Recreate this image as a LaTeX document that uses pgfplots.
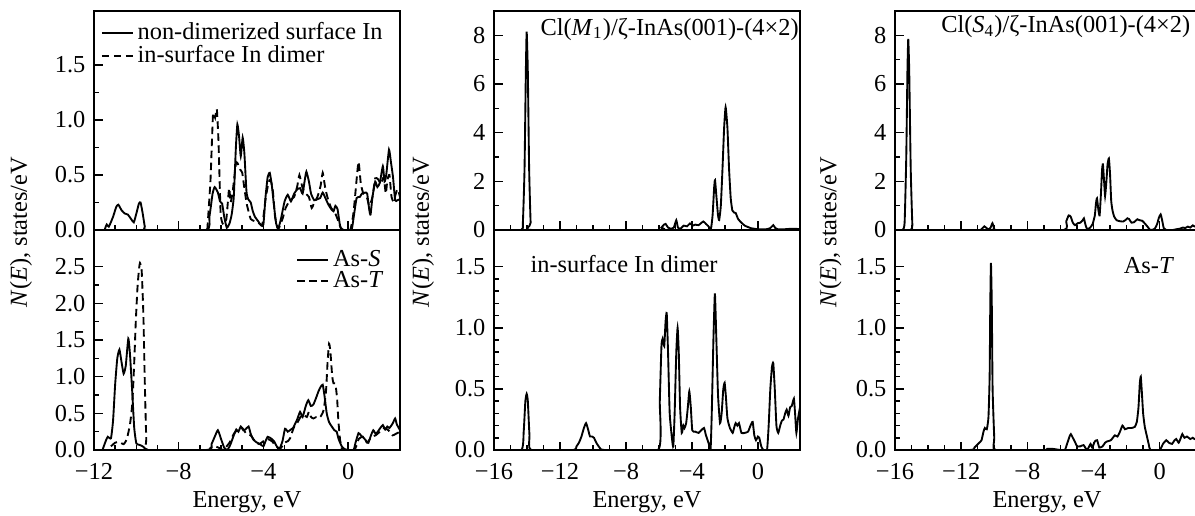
\documentclass[border=0pt]{standalone}
\usepackage{fontspec}
\setmainfont{Liberation Serif}
\usepackage{pgfplots}
\pgfplotsset{compat=1.18}
\usepackage{pgfplotstable}

% Panel 1 upper, solid: non-dimerized surface In
\pgfplotstableread{
E N
-11.5 0
-11.4 0.05
-11.3 0.03
-11.1 0.12
-10.95 0.21
-10.85 0.23
-10.7 0.18
-10.55 0.15
-10.4 0.14
-10.25 0.1
-10.12 0.07
-10.0 0.15
-9.88 0.24
-9.8 0.25
-9.7 0.15
-9.6 0.03
-9.5 0
-6.7 0
-6.55 0.12
-6.4 0.33
-6.3 0.39
-6.15 0.34
-6.05 0.26
-5.95 0.24
-5.85 0.12
-5.73 0.02
-5.6 0.06
-5.5 0.14
-5.4 0.3
-5.3 0.75
-5.23 0.96
-5.15 0.85
-5.07 0.67
-4.98 0.84
-4.9 0.7
-4.8 0.35
-4.72 0.28
-4.6 0.25
-4.5 0.17
-4.4 0.12
-4.25 0.08
-4.1 0.04
-4.0 0.05
-3.9 0.3
-3.8 0.48
-3.7 0.52
-3.6 0.4
-3.5 0.22
-3.4 0.06
-3.3 0.01
-3.15 0.12
-3.0 0.26
-2.85 0.32
-2.7 0.26
-2.55 0.33
-2.4 0.37
-2.27 0.38
-2.15 0.33
-2.05 0.45
-1.97 0.53
-1.85 0.44
-1.75 0.33
-1.6 0.27
-1.45 0.28
-1.32 0.29
-1.2 0.34
-1.05 0.28
-0.93 0.23
-0.8 0.19
-0.69 0.17
-0.6 0.22
-0.5 0.19
-0.4 0.06
-0.3 0.0
0.15 0.0
0.25 0.1
0.4 0.29
0.55 0.3
0.65 0.33
0.8 0.34
0.9 0.33
1.0 0.18
1.06 0.14
1.15 0.3
1.28 0.44
1.38 0.39
1.5 0.43
1.64 0.58
1.72 0.44
1.8 0.5
1.93 0.73
2.02 0.62
2.12 0.48
2.22 0.27
2.32 0.27
2.45 0.28
}\pAus

% Panel 1 upper, dashed: in-surface In dimer
\pgfplotstableread{
E N
-6.65 0
-6.5 0.45
-6.38 1.05
-6.28 1.02
-6.2 1.1
-6.12 0.8
-6.02 0.15
-5.9 0.05
-5.75 0.1
-5.62 0.38
-5.55 0.25
-5.45 0.35
-5.3 0.6
-5.23 0.61
-5.1 0.55
-5.0 0.52
-4.9 0.38
-4.78 0.23
-4.6 0.1
-4.4 0.08
-4.2 0.06
-4.05 0.05
-3.9 0.28
-3.75 0.44
-3.65 0.45
-3.55 0.35
-3.45 0.12
-3.3 0.01
-3.1 0.1
-2.95 0.2
-2.75 0.27
-2.55 0.3
-2.4 0.4
-2.3 0.5
-2.15 0.38
-2.0 0.33
-1.85 0.3
-1.72 0.2
-1.6 0.25
-1.45 0.3
-1.3 0.4
-1.2 0.52
-1.08 0.38
-0.95 0.28
-0.8 0.2
-0.65 0.17
-0.5 0.1
-0.35 0.02
-0.2 0
0.1 0
0.25 0.15
0.35 0.35
0.49 0.62
0.6 0.42
0.72 0.33
0.88 0.3
1.0 0.22
1.15 0.3
1.28 0.47
1.42 0.46
1.55 0.42
1.68 0.48
1.78 0.33
1.85 0.45
1.95 0.5
2.05 0.3
2.15 0.26
2.28 0.35
2.35 0.37
2.45 0.3
}\pAud

% Panel 1 lower, solid: As-S
\pgfplotstableread{
E N
-11.6 0
-11.45 0.12
-11.35 0.18
-11.2 0.16
-11.1 0.4
-11.0 0.9
-10.9 1.25
-10.8 1.37
-10.7 1.2
-10.6 1.04
-10.5 1.15
-10.38 1.52
-10.3 1.3
-10.2 0.82
-10.1 0.3
-10.0 0.09
-9.85 0.07
-9.7 0.05
-9.55 0.01
-9.45 0
-6.6 0
-6.45 0.08
-6.3 0.18
-6.15 0.27
-6.0 0.15
-5.85 0.03
-5.7 0.0
-5.55 0.08
-5.4 0.2
-5.28 0.28
-5.18 0.25
-5.07 0.32
-4.95 0.27
-4.85 0.28
-4.7 0.32
-4.6 0.22
-4.47 0.14
-4.3 0.1
-4.15 0.08
-4.0 0.05
-3.9 0.12
-3.8 0.18
-3.65 0.16
-3.5 0.12
-3.37 0.05
-3.25 0.01
-3.1 0.12
-2.98 0.29
-2.85 0.25
-2.7 0.28
-2.6 0.3
-2.5 0.36
-2.4 0.42
-2.27 0.52
-2.15 0.45
-2.0 0.6
-1.88 0.68
-1.76 0.6
-1.64 0.62
-1.5 0.72
-1.4 0.8
-1.3 0.86
-1.2 0.89
-1.12 0.75
-1.01 0.5
-0.9 0.38
-0.77 0.32
-0.65 0.27
-0.54 0.25
-0.45 0.15
-0.3 0.05
-0.15 0.01
0.25 0
0.35 0.1
0.49 0.23
0.6 0.2
0.75 0.16
0.9 0.11
0.96 0.1
1.08 0.2
1.19 0.27
1.3 0.22
1.4 0.25
1.52 0.3
1.64 0.34
1.75 0.28
1.85 0.32
1.95 0.3
2.1 0.36
2.22 0.43
2.3 0.35
2.45 0.27
}\pAls

% Panel 1 lower, dashed: As-T
\pgfplotstableread{
E N
-11.2 0.05
-11.0 0.1
-10.82 0.11
-10.6 0.08
-10.45 0.15
-10.3 0.35
-10.19 0.64
-10.1 1.2
-10.03 1.73
-9.95 2.2
-9.88 2.45
-9.83 2.55
-9.75 2.45
-9.67 1.86
-9.6 0.9
-9.53 0.15
-9.45 0
-6.7 0
-6.5 0.03
-6.3 0.05
-6.1 0.03
-5.9 0.0
-5.6 0.1
-5.4 0.22
-5.2 0.28
-5.0 0.3
-4.8 0.22
-4.6 0.2
-4.4 0.12
-4.2 0.08
-4.0 0.12
-3.8 0.15
-3.6 0.12
-3.4 0.05
-3.2 0.02
-3.0 0.1
-2.85 0.12
-2.74 0.16
-2.6 0.28
-2.51 0.34
-2.4 0.37
-2.25 0.45
-2.1 0.48
-1.95 0.45
-1.85 0.52
-1.75 0.45
-1.64 0.43
-1.5 0.45
-1.35 0.44
-1.25 0.48
-1.15 0.55
-1.04 0.82
-0.97 1.2
-0.9 1.45
-0.84 1.35
-0.75 1.0
-0.69 0.91
-0.6 0.9
-0.52 0.7
-0.46 0.4
-0.38 0.14
-0.3 0.02
-0.2 0
0.3 0
0.5 0.15
0.7 0.18
0.9 0.1
1.1 0.18
1.3 0.2
1.5 0.25
1.7 0.3
1.9 0.27
2.1 0.2
2.25 0.22
2.45 0.25
}\pAld

% Panel 2 upper
\pgfplotstableread{
E N
-16 0
-14.35 0
-14.25 0.3
-14.15 2.5
-14.07 6.5
-14.02 8.15
-13.95 6.5
-13.87 2.5
-13.78 0.3
-13.7 0
-6.0 0
-5.85 0.1
-5.7 0.22
-5.6 0.25
-5.45 0.1
-5.3 0.05
-5.1 0.1
-4.95 0.4
-4.85 0.1
-4.7 0.05
-4.5 0.18
-4.3 0.15
-4.12 0.27
-3.95 0.18
-3.8 0.22
-3.6 0.2
-3.45 0.28
-3.31 0.35
-3.15 0.25
-3.0 0.15
-2.85 0.05
-2.75 0.6
-2.65 1.8
-2.6 2.05
-2.52 1.4
-2.42 0.6
-2.35 0.41
-2.25 1.0
-2.15 2.5
-2.05 4.2
-1.96 5.05
-1.85 4.2
-1.75 2.5
-1.65 1.3
-1.55 0.8
-1.45 0.72
-1.35 0.7
-1.2 0.45
-1.0 0.3
-0.8 0.18
-0.6 0.12
-0.4 0.07
-0.2 0.05
0.0 0.03
0.5 0.03
0.75 0.08
0.93 0.2
1.05 0.08
1.2 0.03
1.6 0.03
2.0 0.05
2.55 0.04
}\pBu

% Panel 2 lower
\pgfplotstableread{
E N
-16 0
-14.35 0
-14.2 0.15
-14.1 0.4
-14.02 0.46
-13.95 0.4
-13.85 0.12
-13.75 0
-11.2 0
-11.0 0.03
-10.85 0.06
-10.7 0.11
-10.55 0.18
-10.42 0.22
-10.3 0.17
-10.18 0.11
-10.05 0.11
-9.94 0.1
-9.8 0.06
-9.6 0.02
-9.3 0
-6.05 0
-5.95 0.4
-5.85 0.85
-5.78 0.91
-5.68 0.85
-5.6 1.05
-5.53 1.12
-5.45 0.8
-5.35 0.3
-5.2 0.08
-5.13 0.03
-5.05 0.3
-4.95 0.8
-4.87 1.0
-4.8 0.8
-4.72 0.35
-4.62 0.14
-4.52 0.2
-4.45 0.18
-4.35 0.22
-4.25 0.35
-4.16 0.48
-4.07 0.35
-3.98 0.16
-3.8 0.15
-3.6 0.14
-3.45 0.16
-3.27 0.18
-3.15 0.12
-3.0 0.06
-2.87 0.01
-2.8 0.3
-2.7 0.9
-2.61 1.28
-2.52 0.9
-2.42 0.45
-2.3 0.22
-2.2 0.3
-2.1 0.5
-2.02 0.55
-1.95 0.45
-1.85 0.26
-1.7 0.18
-1.53 0.14
-1.45 0.18
-1.35 0.22
-1.25 0.2
-1.15 0.22
-1.0 0.14
-0.8 0.14
-0.6 0.15
-0.45 0.2
-0.32 0.23
-0.22 0.12
-0.12 0.08
0.0 0.11
0.08 0.1
0.2 0.03
0.33 0
0.55 0
0.65 0.2
0.75 0.5
0.85 0.68
0.93 0.71
1.02 0.5
1.12 0.2
1.23 0.14
1.35 0.2
1.45 0.24
1.55 0.25
1.65 0.3
1.74 0.33
1.85 0.28
1.95 0.35
2.05 0.36
2.18 0.42
2.25 0.3
2.33 0.14
2.42 0.25
2.55 0.35
}\pBl

% Panel 3 upper
\pgfplotstableread{
E N
-16 0
-15.55 0
-15.42 0.3
-15.32 3.0
-15.25 6.5
-15.2 7.85
-15.14 6.5
-15.05 2.5
-14.95 0.2
-14.85 0
-10.9 0
-10.75 0.05
-10.6 0.15
-10.5 0.1
-10.35 0.02
-10.22 0.1
-10.11 0.28
-10.0 0.05
-9.9 0
-5.8 0
-5.65 0.35
-5.5 0.6
-5.38 0.55
-5.25 0.3
-5.12 0.2
-4.95 0.28
-4.8 0.3
-4.65 0.4
-4.58 0.48
-4.48 0.2
-4.38 0.03
-4.2 0.1
-4.05 0.25
-3.92 0.6
-3.85 1.1
-3.79 1.3
-3.7 0.8
-3.63 0.6
-3.55 1.5
-3.48 2.5
-3.43 2.7
-3.36 2.0
-3.3 1.4
-3.22 2.0
-3.15 2.7
-3.07 2.94
-3.0 2.3
-2.93 1.2
-2.85 0.8
-2.75 0.55
-2.6 0.4
-2.4 0.36
-2.2 0.35
-2.05 0.42
-1.95 0.48
-1.85 0.45
-1.7 0.3
-1.55 0.32
-1.35 0.44
-1.2 0.4
-1.05 0.38
-0.9 0.27
-0.75 0.15
-0.6 0.02
-0.5 0
-0.3 0.05
-0.15 0.25
-0.05 0.5
0.06 0.64
0.15 0.4
0.25 0.07
0.4 0
0.8 0.0
1.0 0.03
1.2 0.05
1.4 0.1
1.55 0.08
1.7 0.14
1.85 0.1
2.0 0.19
2.1 0.15
2.3 0.12
2.5 0.1
}\pCu

% Panel 3 lower
\pgfplotstableread{
E N
-16 0
-11.5 0
-11.2 0.02
-11.05 0.04
-10.9 0.06
-10.77 0.08
-10.65 0.15
-10.57 0.18
-10.45 0.17
-10.35 0.27
-10.28 0.6
-10.24 1.2
-10.2 1.53
-10.15 1.2
-10.1 0.5
-10.0 0.1
-9.92 0
-7.0 0
-6.8 0.01
-6.5 0.01
-6.0 0
-5.73 0
-5.6 0.05
-5.45 0.11
-5.37 0.13
-5.25 0.1
-5.1 0.06
-4.99 0.03
-4.8 0.03
-4.6 0.04
-4.39 0
-4.18 0.05
-4.08 0.02
-3.92 0.07
-3.78 0.08
-3.65 0.02
-3.45 0.03
-3.3 0.06
-3.18 0.07
-2.95 0.08
-2.71 0.12
-2.55 0.11
-2.4 0.15
-2.25 0.2
-2.1 0.17
-1.9 0.18
-1.7 0.18
-1.5 0.19
-1.38 0.23
-1.28 0.35
-1.2 0.55
-1.14 0.6
-1.08 0.48
-1.0 0.3
-0.9 0.19
-0.75 0.1
-0.65 0.04
-0.56 0
0.0 0
0.2 0.05
0.4 0.08
0.55 0.06
0.75 0.05
0.9 0.08
1.0 0.09
1.15 0.06
1.28 0.1
1.37 0.13
1.5 0.1
1.65 0.11
1.85 0.09
2.0 0.1
2.1 0.09
2.3 0.1
2.5 0.1
}\pCl

\pgfplotsset{
  dosaxis/.style={
    scale only axis,
    anchor=south west,
    width=122.4pt,
    axis line style={-, line width=0.9pt},
    tick style={black, line width=0.6pt},
    major tick length=3.4pt,
    minor tick length=2.1pt,
    xtick pos=bottom, ytick pos=left,
    tick align=inside,
    ymin=0,
    xticklabel shift=1.8pt,
  },
  curve/.style={black, line width=0.75pt, smooth, tension=0.3},
  dcurve/.style={black, line width=0.75pt, smooth, tension=0.3, dash pattern=on 3pt off 1.8pt},
}

\begin{document}
\fontsize{9.75pt}{11.7pt}\selectfont
\begin{tikzpicture}
\useasboundingbox (0pt,0pt) rectangle (478pt,206pt);

% ---------- Column 1 ----------
\begin{axis}[dosaxis, at={(37.6pt,114pt)}, height=87.6pt,
  xmin=-12, xmax=2.45, ymax=1.99,
  xtick={-12,-8,-4,0}, xticklabels={}, minor x tick num=3,
  ytick={0,0.5,1,1.5}, yticklabels={0.0,0.5,1.0,1.5}, minor y tick num=1,
  legend style={at={(0,1)}, anchor=north west, xshift=2.6pt, yshift=-3pt,
    draw=none, fill=none, inner sep=0pt, row sep=-2.3pt, nodes={inner sep=1.5pt}},
  legend cell align=left,
  legend image code/.code={\draw[#1] (0pt,0pt) -- (12.4pt,0pt);},
]
\addplot[curve] table {\pAus};
\addlegendentry{non-dimerized surface In}
\addplot[dcurve] table {\pAud};
\addlegendentry{in-surface In dimer}
\end{axis}

\begin{axis}[dosaxis, at={(37.6pt,26pt)}, height=88pt,
  xmin=-12, xmax=2.45, ymax=3.0,
  xtick={-12,-8,-4,0}, xticklabels={−12,−8,−4,0}, minor x tick num=3,
  ytick={0,0.5,1,1.5,2,2.5}, yticklabels={0.0,0.5,1.0,1.5,2.0,2.5}, minor y tick num=1,
  legend style={at={(1,1)}, anchor=north east, xshift=-5pt, yshift=-6.5pt,
    draw=none, fill=none, inner sep=0pt, row sep=-2.6pt, nodes={inner sep=1.5pt}},
  legend cell align=left,
  legend image code/.code={\draw[#1] (0pt,0pt) -- (12.4pt,0pt);},
]
\addplot[curve] table {\pAls};
\addlegendentry{As-\textit{S}}
\addplot[dcurve] table {\pAld};
\addlegendentry{As-\textit{T}}
\end{axis}

% ---------- Column 2 ----------
\begin{axis}[dosaxis, at={(197.6pt,114pt)}, height=87.6pt,
  xmin=-16, xmax=2.55, ymax=9,
  xtick={-16,-12,-8,-4,0}, xticklabels={}, minor x tick num=3,
  ytick={0,2,4,6,8}, yticklabels={0,2,4,6,8}, minor y tick num=1,
]
\addplot[curve] table {\pBu};
\node[anchor=base west] at (rel axis cs:0.124,0.89) {Cl(\textit{M}\textsubscript{1})/ζ-InAs(001)-(4×2)};
\end{axis}

\begin{axis}[dosaxis, at={(197.6pt,26pt)}, height=88pt,
  xmin=-16, xmax=2.55, ymax=1.8,
  xtick={-16,-12,-8,-4,0}, xticklabels={−16,−12,−8,−4,0}, minor x tick num=3,
  ytick={0,0.5,1,1.5}, yticklabels={0.0,0.5,1.0,1.5}, minor y tick num=4,
]
\addplot[curve] table {\pBl};
\node[anchor=base west] at (rel axis cs:0.0915,0.805) {in-surface In dimer};
\end{axis}

% ---------- Column 3 ----------
\begin{axis}[dosaxis, at={(358pt,114pt)}, height=87.6pt,
  xmin=-16, xmax=2.5, ymax=9,
  xtick={-16,-12,-8,-4,0}, xticklabels={}, minor x tick num=3,
  ytick={0,2,4,6,8}, yticklabels={0,2,4,6,8}, minor y tick num=1,
]
\addplot[curve] table {\pCu};
\node[anchor=base west] at (rel axis cs:0.123,0.90) {Cl(\textit{S}\textsubscript{4})/ζ-InAs(001)-(4×2)};
\end{axis}

\begin{axis}[dosaxis, at={(358pt,26pt)}, height=88pt,
  xmin=-16, xmax=2.5, ymax=1.8,
  xtick={-16,-12,-8,-4,0}, xticklabels={−16,−12,−8,−4,0}, minor x tick num=3,
  ytick={0,0.5,1,1.5}, yticklabels={0.0,0.5,1.0,1.5}, minor y tick num=4,
]
\addplot[curve] table {\pCl};
\node[anchor=base east] at (rel axis cs:0.94,0.803) {As-\textit{T}};
\end{axis}

% ---------- Axis titles ----------
\node[rotate=90] at (8.4pt,113.2pt) {\textit{N}(\textit{E}), states/eV};
\node[rotate=90] at (169.2pt,113.2pt) {\textit{N}(\textit{E}), states/eV};
\node[rotate=90] at (332.2pt,113.2pt) {\textit{N}(\textit{E}), states/eV};
\node[anchor=base] at (98.8pt,3.2pt) {Energy, eV};
\node[anchor=base] at (258.8pt,3.2pt) {Energy, eV};
\node[anchor=base] at (418.8pt,3.2pt) {Energy, eV};
\end{tikzpicture}
\end{document}
